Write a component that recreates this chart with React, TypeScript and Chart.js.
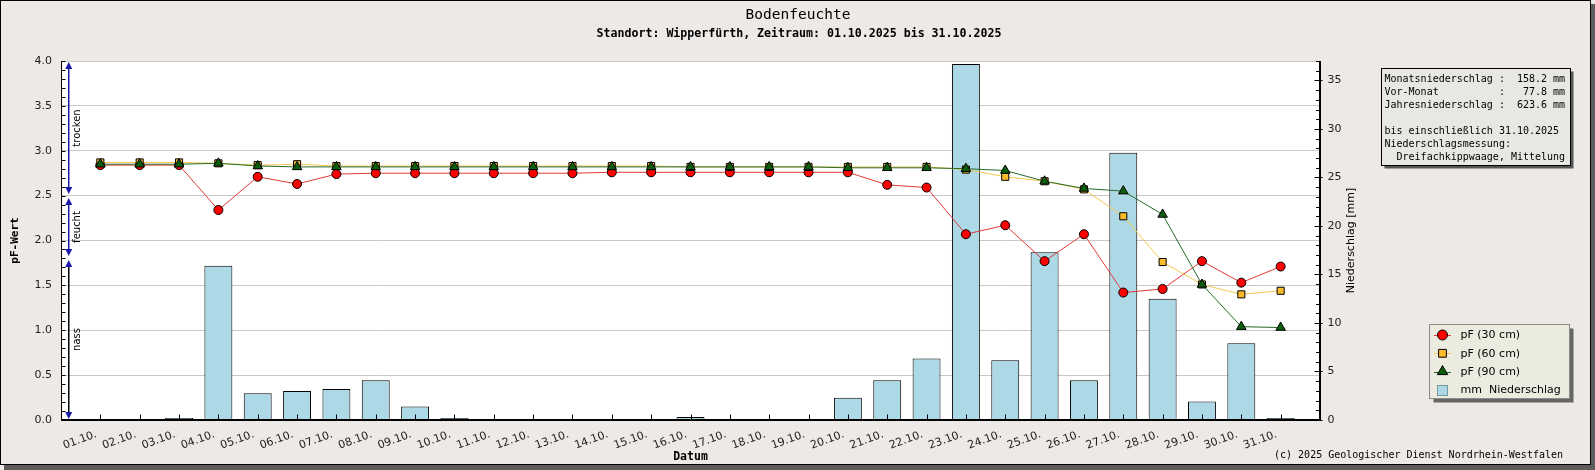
import { useEffect, useRef } from 'react';
import { Chart, registerables } from 'chart.js';

Chart.register(...registerables);

const days = [
  '01.10.', '02.10.', '03.10.', '04.10.', '05.10.', '06.10.', '07.10.', '08.10.',
  '09.10.', '10.10.', '11.10.', '12.10.', '13.10.', '14.10.', '15.10.', '16.10.',
  '17.10.', '18.10.', '19.10.', '20.10.', '21.10.', '22.10.', '23.10.', '24.10.',
  '25.10.', '26.10.', '27.10.', '28.10.', '29.10.', '30.10.', '31.10.',
];

// pF-Werte in drei Tiefen
const pf30 = [2.84, 2.84, 2.84, 2.34, 2.71, 2.63, 2.74, 2.75, 2.75, 2.75, 2.75, 2.75, 2.75, 2.76, 2.76, 2.76,
  2.76, 2.76, 2.76, 2.76, 2.62, 2.59, 2.07, 2.17, 1.77, 2.07, 1.42, 1.46, 1.77, 1.53, 1.71];
const pf60 = [2.87, 2.87, 2.87, 2.86, 2.84, 2.85, 2.83, 2.83, 2.83, 2.83, 2.83, 2.83, 2.83, 2.83, 2.83, 2.82,
  2.82, 2.82, 2.82, 2.82, 2.82, 2.82, 2.79, 2.71, 2.66, 2.57, 2.27, 1.76, 1.51, 1.40, 1.44];
const pf90 = [2.85, 2.85, 2.85, 2.86, 2.83, 2.82, 2.82, 2.82, 2.82, 2.82, 2.82, 2.82, 2.82, 2.82, 2.82, 2.82,
  2.82, 2.82, 2.82, 2.81, 2.81, 2.81, 2.80, 2.78, 2.66, 2.58, 2.55, 2.29, 1.51, 1.04, 1.03];

// Niederschlag in mm
const rain = [0, 0, 0.2, 15.9, 2.75, 3.0, 3.2, 4.1, 1.4, 0.2, 0, 0, 0, 0, 0, 0.3,
  0, 0, 0, 2.3, 4.1, 6.35, 36.7, 6.15, 17.3, 4.1, 27.55, 12.5, 1.9, 7.9, 0.2];

const zoneNames = ['nass', 'feucht', 'trocken'];
const zoneBounds = [0, 1.8, 2.5, 4.0];

const infoLines = [
  'Monatsniederschlag :  158.2 mm',
  'Vor-Monat          :   77.8 mm',
  'Jahresniederschlag :  623.6 mm',
  '',
  'bis einschließlich 31.10.2025',
  'Niederschlagsmessung:',
  '  Dreifachkippwaage, Mittelung',
];

const title = 'Bodenfeuchte';
const subtitle = 'Standort: Wipperfürth, Zeitraum: 01.10.2025 bis 31.10.2025';
const copyright = '(c) 2025 Geologischer Dienst Nordrhein-Westfalen';

const pad = (arr: number[]) => [null, ...arr, null];

const ZONE_BLUE = '#1a1aa8';

function marker(ctx: CanvasRenderingContext2D, style: string, x: number, y: number, r: number) {
  ctx.beginPath();
  if (style === 'rect') {
    const s = r * Math.SQRT1_2;
    ctx.rect(x - s, y - s, 2 * s, 2 * s);
  } else if (style === 'triangle') {
    ctx.moveTo(x, y - r);
    ctx.lineTo(x + r * 0.866, y + r * 0.5);
    ctx.lineTo(x - r * 0.866, y + r * 0.5);
    ctx.closePath();
  } else {
    ctx.arc(x, y, r, 0, Math.PI * 2);
  }
  ctx.fill();
  ctx.stroke();
}

const decor = {
  id: 'decor',
  beforeDraw(chart: any) {
    const { ctx, width, height, chartArea: a } = chart;
    ctx.save();
    ctx.fillStyle = '#ece9e7';
    ctx.fillRect(0, 0, width, height);
    ctx.fillStyle = '#5c5c5c';
    ctx.fillRect(4, height - 5, width - 4, 5);
    ctx.fillRect(width - 4, 4, 4, height - 4);
    ctx.strokeStyle = '#000';
    ctx.lineWidth = 1;
    ctx.strokeRect(0.5, 0.5, width - 5, height - 6);
    ctx.fillStyle = '#fff';
    ctx.fillRect(a.left, a.top, a.right - a.left, a.bottom - a.top);
    ctx.restore();
  },
  afterDatasetsDraw(chart: any) {
    const { ctx, chartArea: a, scales } = chart;
    const yL = scales.y;
    const yR = scales.y2;
    const xs = scales.x;
    ctx.save();
    ctx.strokeStyle = '#000';
    ctx.lineWidth = 1;
    ctx.beginPath();
    // Achsenlinien
    const l = Math.round(a.left) + 0.5;
    const r = Math.round(a.right) - 0.5;
    const b = Math.round(a.bottom) - 0.5;
    ctx.moveTo(l, a.top);
    ctx.lineTo(l, b);
    ctx.lineTo(r, b);
    ctx.lineTo(r, a.top);
    // Striche links (0.1)
    for (let i = 0; i <= 40; i++) {
      const y = Math.round(yL.getPixelForValue(i / 10)) + 0.5;
      ctx.moveTo(l, y);
      ctx.lineTo(l + 4, y);
    }
    // Striche rechts (1 mm)
    for (let v = 0; v <= 37; v++) {
      const y = Math.round(yR.getPixelForValue(v)) + 0.5;
      const major = v % 5 === 0;
      ctx.moveTo(r - (major ? 5 : 3.5), y);
      ctx.lineTo(r + (major ? 3 : 0), y);
    }
    // Striche unten
    days.forEach((_, i) => {
      const x = Math.round(xs.getPixelForValue(i + 1)) + 0.5;
      ctx.moveTo(x, b);
      ctx.lineTo(x, b - 5);
    });
    ctx.stroke();

    // Bereiche nass / feucht / trocken
    const zx = Math.round(a.left) + 7;
    const cx = zx + 0.75;
    zoneNames.forEach((name, i) => {
      const yTop = Math.round(yL.getPixelForValue(zoneBounds[i + 1]) + (i === zoneNames.length - 1 ? 1 : 2));
      const yBot = Math.round(yL.getPixelForValue(zoneBounds[i]) - (i === 0 ? 1 : 2));
      ctx.fillStyle = i === 0 ? '#000' : ZONE_BLUE;
      ctx.fillRect(zx, yTop + 5, 1.5, yBot - yTop - 10);
      ctx.fillStyle = ZONE_BLUE;
      ctx.beginPath();
      ctx.moveTo(cx, yTop);
      ctx.lineTo(cx - 3.5, yTop + 7);
      ctx.lineTo(cx + 3.5, yTop + 7);
      ctx.closePath();
      ctx.fill();
      ctx.beginPath();
      ctx.moveTo(cx, yBot);
      ctx.lineTo(cx - 3.5, yBot - 7);
      ctx.lineTo(cx + 3.5, yBot - 7);
      ctx.closePath();
      ctx.fill();
      ctx.save();
      ctx.translate(a.left + 16, (yTop + yBot) / 2);
      ctx.rotate(-Math.PI / 2);
      ctx.fillStyle = '#000';
      ctx.font = '10px "DejaVu Sans"';
      ctx.textAlign = 'center';
      ctx.textBaseline = 'middle';
      ctx.fillText(name, 0, 0);
      ctx.restore();
    });
    ctx.restore();
  },
  afterDraw(chart: any) {
    const { ctx, chartArea: a } = chart;
    ctx.save();
    ctx.fillStyle = '#000';
    ctx.textAlign = 'center';
    ctx.textBaseline = 'middle';
    ctx.font = '14.5px "DejaVu Sans Mono"';
    ctx.fillText(title, 798, 15);
    ctx.font = 'bold 11.6px "DejaVu Sans Mono"';
    ctx.fillText(subtitle, 799, 33.5);

    // rechte Achsenbeschriftung
    ctx.save();
    ctx.translate(1351, (a.top + a.bottom) / 2);
    ctx.rotate(-Math.PI / 2);
    ctx.font = '11px "DejaVu Sans"';
    ctx.fillText('Niederschlag [mm]', 0, 0);
    ctx.restore();

    ctx.textAlign = 'right';
    ctx.font = '10px "DejaVu Sans Mono"';
    ctx.fillText(copyright, 1563, 455);

    // Infobox
    const bx = 1381.5, by = 68.5, bw = 189, bh = 97;
    ctx.fillStyle = '#555';
    ctx.fillRect(bx + 3, by + 3, bw, bh);
    ctx.fillStyle = '#e9e7e4';
    ctx.fillRect(bx, by, bw, bh);
    ctx.strokeStyle = '#000';
    ctx.lineWidth = 1;
    ctx.strokeRect(bx, by, bw, bh);
    ctx.fillStyle = '#000';
    ctx.textAlign = 'left';
    ctx.font = '10px "DejaVu Sans Mono"';
    infoLines.forEach((t, i) => ctx.fillText(t, 1384.5, 79.5 + i * 13));

    // Legende
    const lx = 1429.5, ly = 324.5, lw = 140, lh = 74;
    ctx.fillStyle = '#666';
    ctx.fillRect(lx + 4, ly + 4, lw, lh);
    ctx.fillStyle = '#ebebe0';
    ctx.fillRect(lx, ly, lw, lh);
    ctx.strokeStyle = '#8a8a8a';
    ctx.strokeRect(lx, ly, lw, lh);
    chart.data.datasets.forEach((ds: any, i: number) => {
      const y = 335 + i * 18.3;
      if (ds.type === 'line') {
        ctx.strokeStyle = ds.borderColor;
        ctx.beginPath();
        ctx.moveTo(1434, Math.round(y) + 0.5);
        ctx.lineTo(1451, Math.round(y) + 0.5);
        ctx.stroke();
        ctx.fillStyle = ds.pointBackgroundColor;
        ctx.strokeStyle = '#000';
        marker(ctx, ds.pointStyle, 1442.5, y, ds.pointRadius + 0.5);
      } else {
        ctx.fillStyle = ds.backgroundColor;
        ctx.strokeStyle = '#7896a0';
        ctx.fillRect(1437.5, Math.round(y) - 4.5, 10, 10);
        ctx.strokeRect(1437.5, Math.round(y) - 4.5, 10, 10);
      }
      ctx.fillStyle = '#000';
      ctx.font = '11px "DejaVu Sans"';
      ctx.fillText(ds.label, 1460.5, y + 0.5);
    });
    ctx.restore();
  },
};

export default function App() {
  const canvasRef = useRef<HTMLCanvasElement>(null);

  useEffect(() => {
    document.body.style.margin = '0';
    if (!canvasRef.current) return;

    const tickFont = { family: 'DejaVu Sans', size: 11 };

    const chart = new Chart(canvasRef.current, {
      type: 'bar',
      data: {
        labels: ['', ...days, ''],
        datasets: [
          {
            type: 'line', label: 'pF (30 cm)', data: pad(pf30), yAxisID: 'y', order: 3,
            borderColor: 'rgb(226,58,58)', backgroundColor: '#ff0000', borderWidth: 1,
            pointStyle: 'circle', pointRadius: 4.5, pointBackgroundColor: '#ff0000',
            pointBorderColor: '#000', pointBorderWidth: 1, tension: 0,
          },
          {
            type: 'line', label: 'pF (60 cm)', data: pad(pf60), yAxisID: 'y', order: 2,
            borderColor: 'rgb(244,200,80)', backgroundColor: '#fbbb2c', borderWidth: 1,
            pointStyle: 'rect', pointRadius: 5, pointBackgroundColor: '#fbbb2c',
            pointBorderColor: '#000', pointBorderWidth: 1, tension: 0,
          },
          {
            type: 'line', label: 'pF (90 cm)', data: pad(pf90), yAxisID: 'y', order: 1,
            borderColor: 'rgb(40,105,40)', backgroundColor: '#0b5e0b', borderWidth: 1,
            pointStyle: 'triangle', pointRadius: 5.5, pointBackgroundColor: '#0b5e0b',
            pointBorderColor: '#000', pointBorderWidth: 1, tension: 0,
          },
          {
            type: 'bar', label: 'mm  Niederschlag', data: pad(rain), yAxisID: 'y2', order: 4,
            backgroundColor: '#add8e6', borderColor: '#000', borderWidth: 1,
            barPercentage: 0.71, categoryPercentage: 1,
          },
        ],
      } as any,
      options: {
        responsive: false,
        animation: false,
        devicePixelRatio: 1,
        layout: { padding: { top: 61, left: 0, right: 0, bottom: 0 } },
        plugins: {
          legend: { display: false },
          tooltip: { enabled: false },
          title: { display: false },
        },
        scales: {
          x: {
            type: 'category',
            offset: false,
            grid: { drawOnChartArea: false, drawTicks: false, offset: false },
            border: { display: true, color: '#000' },
            ticks: {
              autoSkip: false, minRotation: 20, maxRotation: 20,
              font: tickFont, color: '#222', padding: 8, labelOffset: -4,
            },
            title: {
              display: true, text: 'Datum', color: '#000',
              font: { family: 'DejaVu Sans Mono', size: 11.5, weight: 'bold' },
              padding: { top: 0, bottom: 6 },
            },
            afterFit: (s: any) => { s.height = 50; },
          },
          y: {
            type: 'linear',
            position: 'left',
            min: 0,
            max: 4,
            ticks: {
              stepSize: 0.5, font: tickFont, color: '#222', padding: 9,
              callback: (v: any) => Number(v).toFixed(1),
            },
            grid: { color: '#c8c8c8', drawTicks: false },
            border: { display: true, color: '#000' },
            title: {
              display: true, text: 'pF-Wert', color: '#000',
              font: { family: 'DejaVu Sans Mono', size: 11, weight: 'bold' },
              padding: { top: 8.4, bottom: 0 },
            },
            afterFit: (s: any) => { s.width = 61; },
          },
          y2: {
            type: 'linear',
            position: 'right',
            min: 0,
            max: 37,
            ticks: { stepSize: 5, includeBounds: false, font: tickFont, color: '#222', padding: 7.5 },
            grid: { drawOnChartArea: false, drawTicks: false },
            border: { display: true, color: '#000' },
            afterFit: (s: any) => { s.width = 275; },
          },
        },
      } as any,
      plugins: [decor],
    });

    return () => {
      chart.destroy();
    };
  }, []);

  return (
    <div style={{ width: 1595, height: 470 }}>
      <canvas ref={canvasRef} width={1595} height={470} style={{ display: 'block' }} />
    </div>
  );
}
